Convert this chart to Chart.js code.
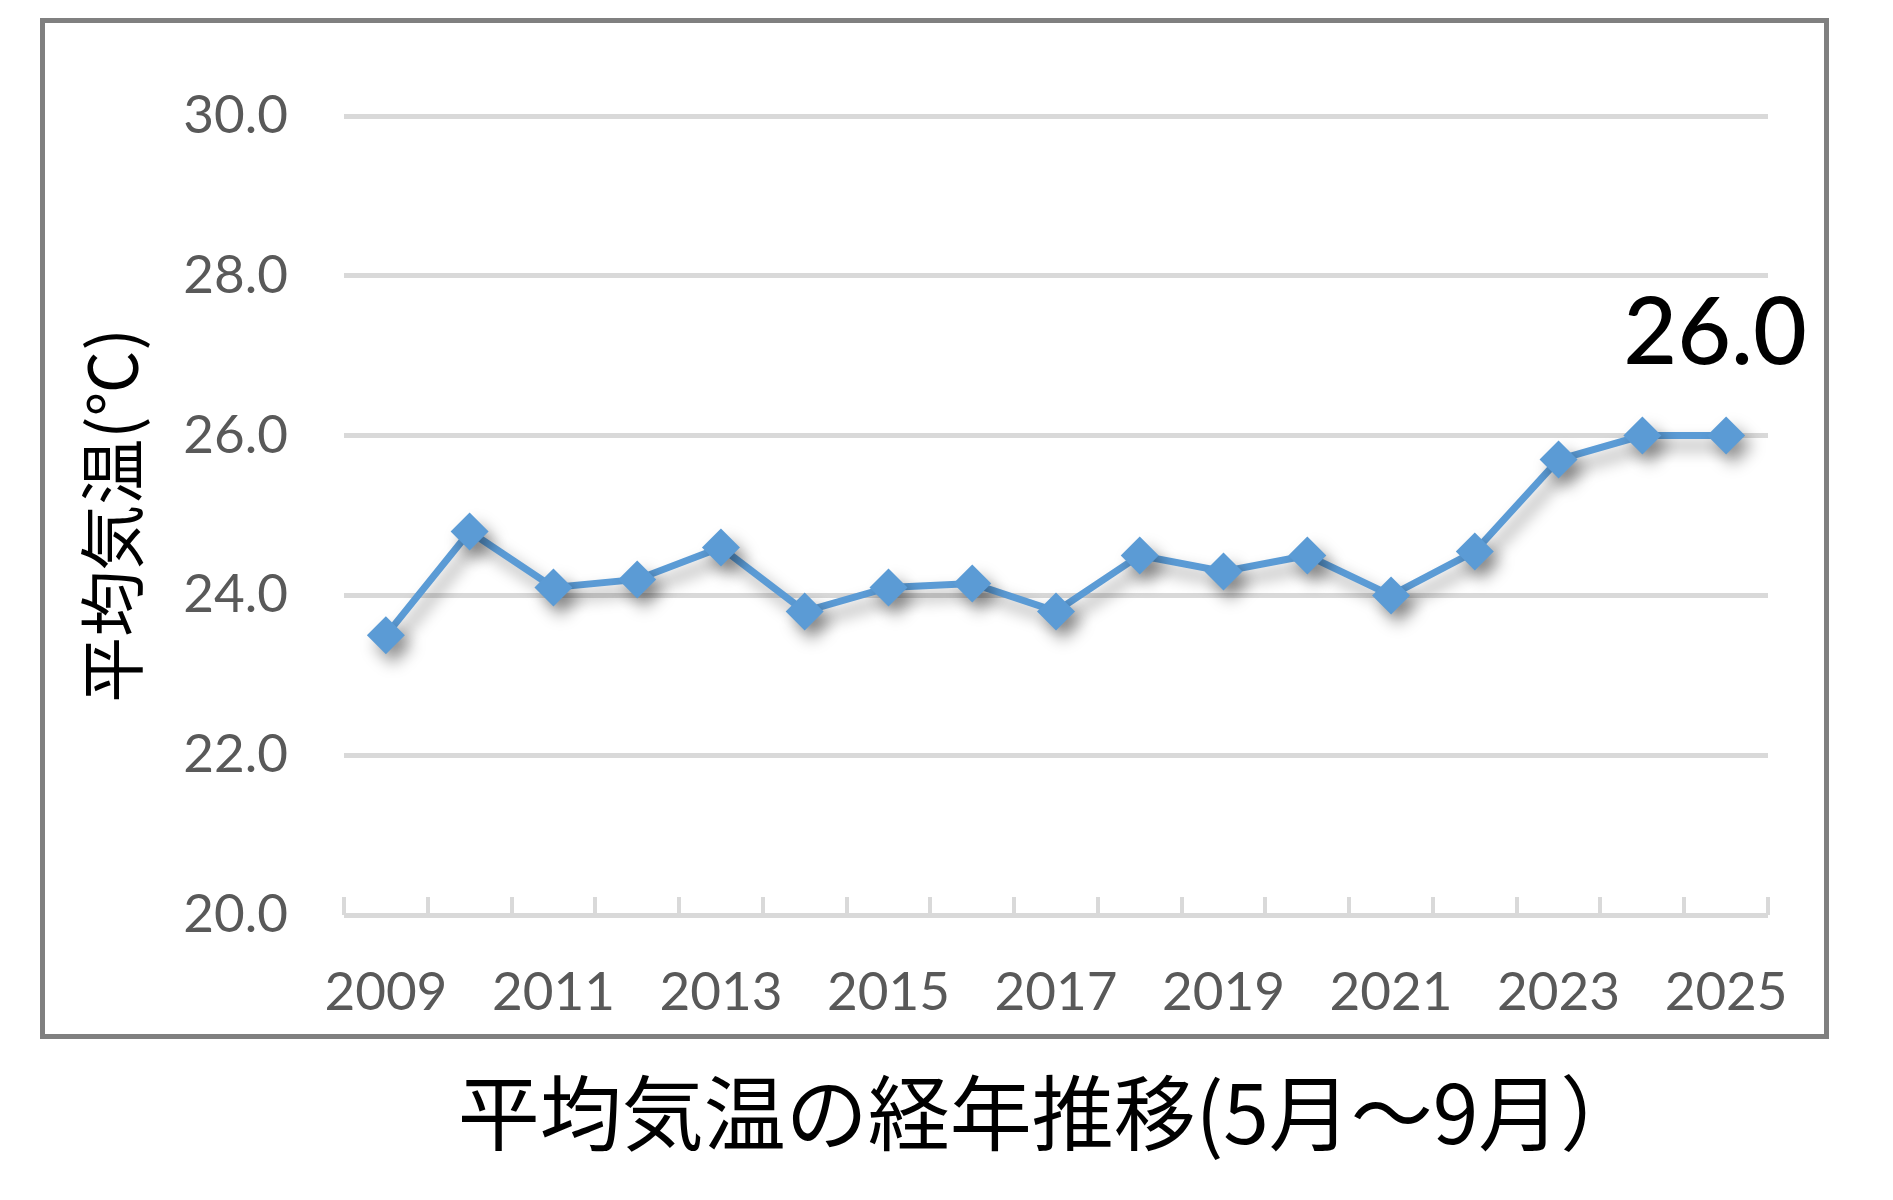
<!DOCTYPE html>
<html lang="ja">
<head>
<meta charset="utf-8">
<script src="https://cdn.jsdelivr.net/npm/chart.js@4.4.1/dist/chart.umd.min.js"></script>
<style>
  html, body { margin: 0; padding: 0; background: #ffffff; }
  #wrap { position: relative; width: 1893px; height: 1200px; }
  #frame { position: absolute; left: 40px; top: 18px; width: 1789px; height: 1021px;
           box-sizing: border-box; border: 5px solid #808080; pointer-events: none; }
  #title { position: absolute; left: 450px; width: 1200px; top: 1068px; height: 82px;
           line-height: 82px; text-align: center; font-size: 82px; color: #000;
           font-family: "Noto Sans CJK JP", sans-serif; white-space: nowrap; }
</style>
</head>
<body>
<div id="wrap">
  <canvas id="c" width="1893" height="1200"></canvas>
  <div id="frame"></div>
  <div id="title"></div>
</div>
<script>
// ---- data ----
const years = ['2009','2010','2011','2012','2013','2014','2015','2016','2017','2018','2019','2020','2021','2022','2023','2024','2025'];
const avgTemp = [23.5, 24.8, 24.1, 24.2, 24.6, 23.8, 24.1, 24.15, 23.8, 24.5, 24.3, 24.5, 24.0, 24.55, 25.7, 26.0, 26.0];
const yTicksMin = 20;
const yTicksMax = 30;
const yTickStep = 2;
const chartTitle = '平均気温の経年推移(5月～9月）';
const yAxisTitle = '平均気温(℃)';

document.getElementById('title').textContent = chartTitle;

const LINE_COLOR = '#5B9BD5';
const GRID_COLOR = '#D9D9D9';
const TICK_COLOR = '#595959';

Chart.defaults.font.family = 'Lato, "Noto Sans", sans-serif';

const shadowPlugin = {
  id: 'shadow',
  beforeDatasetDraw(chart) {
    const ctx = chart.ctx;
    ctx.save();
    ctx.shadowColor = 'rgba(0,0,0,0.40)';
    ctx.shadowBlur = 16;
    ctx.shadowOffsetX = 7;
    ctx.shadowOffsetY = 10;
  },
  afterDatasetDraw(chart) {
    chart.ctx.restore();
  }
};

const tickMarkPlugin = {
  id: 'upTicks',
  beforeDatasetsDraw(chart) {
    const x = chart.scales.x, y = chart.scales.y;
    const ctx = chart.ctx;
    const base = y.getPixelForValue(yTicksMin);
    ctx.save();
    ctx.strokeStyle = GRID_COLOR;
    ctx.lineWidth = 4;
    for (let i = 0; i <= years.length; i++) {
      const px = Math.round(x.getPixelForValue(i - 0.5));
      ctx.beginPath();
      ctx.moveTo(px, base);
      ctx.lineTo(px, base - 18);
      ctx.stroke();
    }
    ctx.restore();
  }
};

const lastLabelPlugin = {
  id: 'lastLabel',
  afterDatasetsDraw(chart) {
    const meta = chart.getDatasetMeta(0);
    const i = avgTemp.length - 1;
    const pt = meta.data[i];
    const ctx = chart.ctx;
    ctx.save();
    ctx.font = '500 93px Lato, "Noto Sans", sans-serif';
    ctx.fillStyle = '#000000';
    ctx.textAlign = 'center';
    ctx.textBaseline = 'alphabetic';
    ctx.fillText(avgTemp[i].toFixed(1), pt.x - 11, pt.y - 72);
    ctx.restore();
  }
};

new Chart(document.getElementById('c'), {
  type: 'line',
  data: {
    labels: years,
    datasets: [{
      data: avgTemp,
      borderColor: LINE_COLOR,
      backgroundColor: LINE_COLOR,
      borderWidth: 7,
      pointStyle: 'rectRot',
      pointRadius: 19,
      pointBorderWidth: 0,
      pointBackgroundColor: LINE_COLOR,
      tension: 0,
      fill: false
    }]
  },
  options: {
    responsive: false,
    animation: false,
    devicePixelRatio: 1,
    layout: { padding: { left: 0, right: 125, top: 116, bottom: 145 } },
    plugins: {
      legend: { display: false },
      tooltip: { enabled: false },
      title: { display: false }
    },
    scales: {
      x: {
        type: 'category',
        offset: true,
        grid: { display: false, drawTicks: false },
        border: { display: false },
        ticks: {
          autoSkip: false,
          maxRotation: 0,
          padding: 46,
          color: TICK_COLOR,
          font: { size: 53 },
          callback: (v, i) => (i % 2 === 0 ? years[i] : '')
        },
        afterFit(scale) { scale.height = 140; }
      },
      y: {
        min: yTicksMin,
        max: yTicksMax,
        grid: { color: GRID_COLOR, lineWidth: 5, drawTicks: false },
        border: { display: false },
        ticks: {
          stepSize: yTickStep,
          padding: 56,
          color: TICK_COLOR,
          font: { size: 53 },
          callback: v => Number(v).toFixed(1)
        },
        title: {
          display: true,
          text: yAxisTitle,
          color: '#000000',
          font: { family: '"Noto Sans CJK JP", sans-serif', size: 66, weight: 'normal' },
          padding: { top: 72, bottom: 0 }
        },
        afterFit(scale) { scale.width = 344; }
      }
    }
  },
  plugins: [shadowPlugin, tickMarkPlugin, lastLabelPlugin]
});
</script>
</body>
</html>
